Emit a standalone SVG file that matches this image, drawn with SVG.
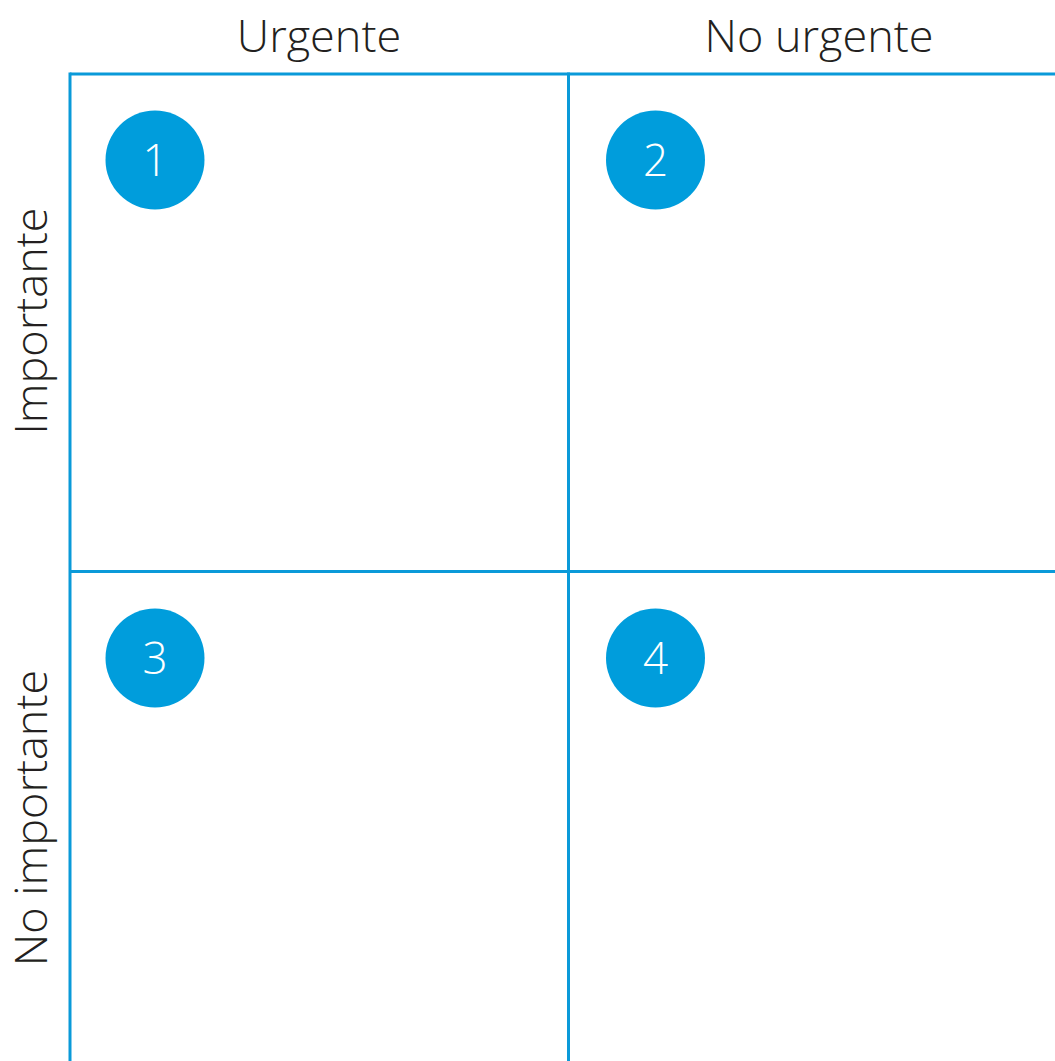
<svg xmlns="http://www.w3.org/2000/svg" width="1055" height="1061" viewBox="0 0 1055 1061">
  <style>
    .grid { stroke: #0a9ad9; stroke-width: 3; fill: none; }
    .badge circle { fill: #009ddc; }
    .badge text { fill: #ffffff; font-family: "Open Sans", "Liberation Sans", sans-serif; font-weight: 300; font-size: 44px; text-anchor: middle; }
    .axis { fill: #231f20; font-family: "Open Sans", "Liberation Sans", sans-serif; font-weight: 300; font-size: 45px; text-anchor: middle; }
  </style>
  <rect width="1055" height="1061" fill="#ffffff"/>

  <!-- axis headings -->
  <g id="col-labels">
    <text class="axis" x="319" y="52">Urgente</text>
    <text class="axis" x="819" y="52">No urgente</text>
  </g>
  <g id="row-labels">
    <text class="axis" transform="translate(47 321) rotate(-90)">Importante</text>
    <text class="axis" transform="translate(47 818) rotate(-90)">No importante</text>
  </g>

  <!-- quadrant grid -->
  <g id="grid" class="grid">
    <line x1="70" y1="74" x2="1070" y2="74"/>
    <line x1="70" y1="571.5" x2="1070" y2="571.5"/>
    <line x1="70" y1="72.5" x2="70" y2="1070"/>
    <line x1="568.5" y1="72.5" x2="568.5" y2="1070"/>
  </g>

  <!-- numbered quadrants -->
  <g id="q1" class="badge">
    <circle cx="155" cy="160" r="49.5"/>
    <text x="155" y="176">1</text>
  </g>
  <g id="q2" class="badge">
    <circle cx="655.5" cy="160" r="49.5"/>
    <text x="655.5" y="176">2</text>
  </g>
  <g id="q3" class="badge">
    <circle cx="155" cy="658" r="49.5"/>
    <text x="155" y="674">3</text>
  </g>
  <g id="q4" class="badge">
    <circle cx="655.5" cy="658" r="49.5"/>
    <text x="655.5" y="674">4</text>
  </g>
</svg>
